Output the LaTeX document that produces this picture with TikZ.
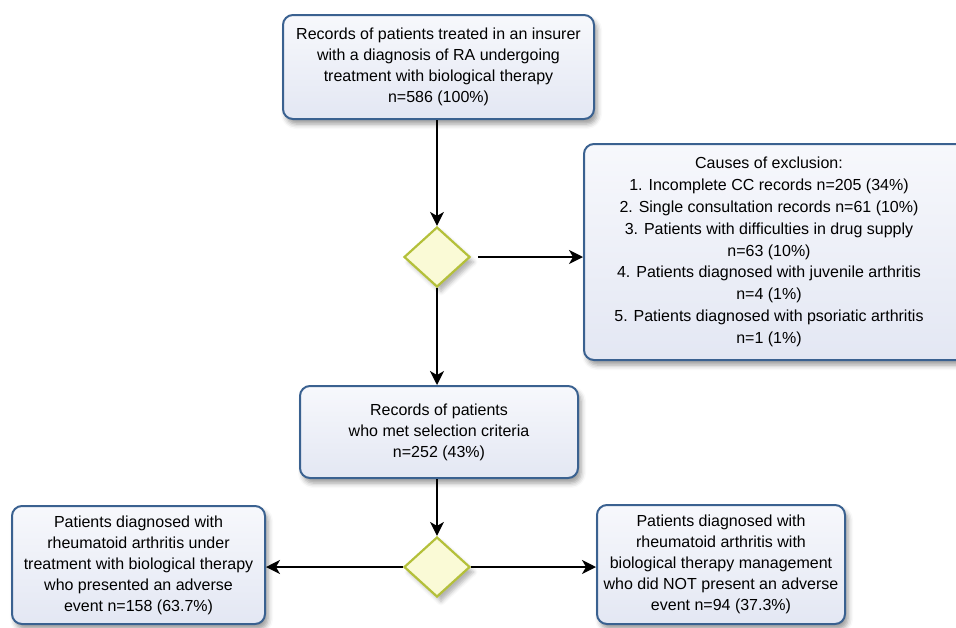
\documentclass[tikz,border=0pt]{standalone}
\usepackage{fontspec}
\setmainfont{Liberation Sans}
\usetikzlibrary{arrows.meta,shapes.geometric,shadows.blur,calc}
\definecolor{boxborder}{HTML}{3A6190}
\definecolor{boxtop}{HTML}{F7F8FC}
\definecolor{boxbot}{HTML}{E3E7F3}
\definecolor{dfill}{HTML}{FAFAD6}
\definecolor{dborder}{HTML}{B4C03A}
\tikzset{
  flowbox/.style={draw=boxborder, line width=2pt, rounded corners=10pt,
    top color=boxtop, bottom color=boxbot, align=center, inner sep=0pt,
    font=\fontsize{16}{21}\selectfont,
    blur shadow={shadow xshift=3pt, shadow yshift=-5pt, shadow blur radius=5pt, shadow opacity=40}},
  decision/.style={diamond, draw=dborder, line width=2.2pt, fill=dfill, aspect=1.1,
    minimum width=66pt, minimum height=60pt, inner sep=0pt,
    blur shadow={shadow xshift=4pt, shadow yshift=-5pt, shadow blur radius=4pt, shadow opacity=30}},
  plain/.style={align=center, font=\fontsize{16}{21.8}\selectfont, inner sep=0pt},
  conn/.style={line width=1.4pt, -{Stealth[length=14pt,width=14pt,inset=4pt]}}
}
\begin{document}
\begin{tikzpicture}[x=1pt,y=-1pt]
\useasboundingbox (0,0) rectangle (956,627);
\node[flowbox, minimum width=311pt, minimum height=104pt] (top) at (438.5,67)
  {Records of patients treated in an insurer\\with a diagnosis of RA undergoing\\treatment with biological therapy\\n=586 (100\%)};
\node[decision] (d1) at (437,257) {};
\node[flowbox, minimum width=388pt, minimum height=216pt] (excl) at (778,252) {};
\node[plain] (exclt) at (769,252)
  {Causes of exclusion:\\1. Incomplete CC records n=205 (34\%)\\2. Single consultation records n=61 (10\%)\\3. Patients with difficulties in drug supply\\n=63 (10\%)\\4. Patients diagnosed with juvenile arthritis\\n=4 (1\%)\\5. Patients diagnosed with psoriatic arthritis\\n=1 (1\%)};
\node[flowbox, minimum width=278pt, minimum height=92pt] (mid) at (439,432)
  {Records of patients\\who met selection criteria\\n=252 (43\%)};
\node[decision] (d2) at (437,567) {};
\node[flowbox, minimum width=253pt, minimum height=118pt] (left) at (138.5,565)
  {Patients diagnosed with\\rheumatoid arthritis under\\treatment with biological therapy\\who presented an adverse\\event n=158 (63.7\%)};
\node[flowbox, minimum width=248pt, minimum height=119pt] (right) at (721,564.5)
  {Patients diagnosed with\\rheumatoid arthritis with\\biological therapy management\\who did NOT present an adverse\\event n=94 (37.3\%)};
\coordinate (d1r) at (478,257);
\draw[conn] (d1.north |- top.south) -- (d1.north);
\draw[conn] (d1r) -- (d1r -| excl.west);
\draw[conn] (d1.south) -- (d1.south |- mid.north);
\draw[conn] (d2.north |- mid.south) -- (d2.north);
\draw[conn] (d2.west) -- (d2.west -| left.east);
\draw[conn] (d2.east) -- (d2.east -| right.west);
\end{tikzpicture}
\end{document}
